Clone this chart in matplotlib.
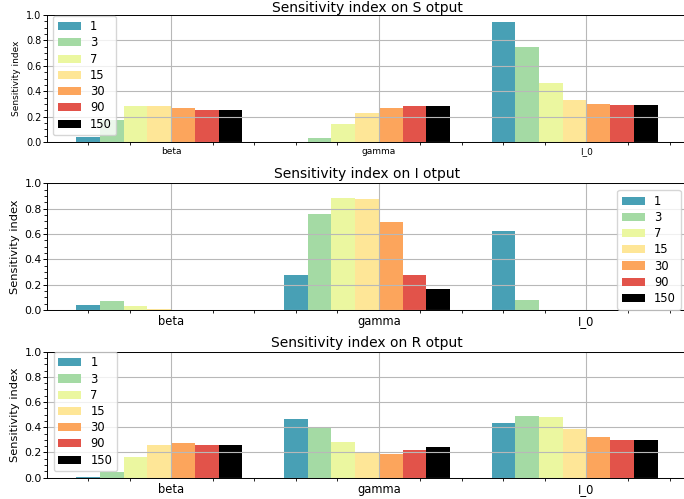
import numpy as np
import matplotlib
matplotlib.use('Agg')
import matplotlib.pyplot as plt

# parameters and time points (days)
params = ['beta', 'gamma', 'I_0']
times = ['1', '3', '7', '15', '30', '90', '150']
colors = ['#48a0b5', '#a4daa4', '#ebf7a0', '#fee697', '#fca55c', '#e2534a', '#000000']

# sensitivity index per output, rows = time points, columns = parameters
s_out = [[0.04, 0.0, 0.945],
         [0.173, 0.035, 0.748],
         [0.283, 0.142, 0.465],
         [0.283, 0.228, 0.331],
         [0.268, 0.268, 0.299],
         [0.252, 0.283, 0.291],
         [0.252, 0.283, 0.291]]
i_out = [[0.039, 0.276, 0.624],
         [0.071, 0.758, 0.079],
         [0.034, 0.884, 0.0],
         [0.005, 0.876, 0.0],
         [0.0, 0.695, 0.0],
         [0.0, 0.276, 0.0],
         [0.0, 0.166, 0.0]]
r_out = [[0.003, 0.466, 0.434],
         [0.048, 0.394, 0.49],
         [0.164, 0.283, 0.48],
         [0.26, 0.2, 0.386],
         [0.275, 0.188, 0.323],
         [0.26, 0.22, 0.299],
         [0.26, 0.243, 0.299]]

fig = plt.figure(figsize=(6.84, 4.99), dpi=100)

# name, data, axes rect, legend loc, legend anchor, small fonts
panels = [('S', s_out, [0.069, 0.7154, 0.935, 0.2545], 'upper left', (0.009, 0.995), True),
          ('I', i_out, [0.069, 0.3788, 0.935, 0.2539], 'lower right', (0.9906, 0.003), False),
          ('R', r_out, [0.069, 0.0427, 0.935, 0.2525], 'upper left', (0.010, 1.0), False)]

x = np.arange(len(params))
w = 0.8 / len(times)

for name, data, rect, loc, anchor, small in panels:
    ax = fig.add_axes(rect)
    for i, t in enumerate(times):
        ax.bar(x + (i - 3.5) * w, data[i], w, color=colors[i], label=t)
    ax.set_ylim(0, 1)
    ax.set_xticks(x, params)
    ax.minorticks_on()
    ax.grid(True, which='major', color='#b8b8b8', lw=0.8)
    for s in ax.spines.values():
        s.set_linewidth(0.7)
    ax.tick_params(axis='y', which='major', length=3, width=0.7, pad=1)
    ax.tick_params(axis='x', which='major', length=0, pad=3.5)
    ax.tick_params(which='minor', length=2, width=0.6)
    if small:
        ax.tick_params(axis='y', labelsize=7)
        ax.tick_params(axis='x', labelsize=6.5)
        ax.set_ylabel('Sensitivity index', fontsize=6.5, labelpad=4)
        ax.set_title('Sensitivity index on %s otput' % name, fontsize=10, pad=2.5)
    else:
        ax.tick_params(axis='y', labelsize=7.8)
        ax.tick_params(axis='x', labelsize=8.3)
        ax.set_ylabel('Sensitivity index', fontsize=8.2, labelpad=3)
        ax.set_title('Sensitivity index on %s otput' % name, fontsize=10, pad=3.5)
    ax.legend(loc=loc, bbox_to_anchor=anchor, borderaxespad=0, fontsize=8.3,
              labelspacing=0.28)

fig.savefig('out.png', dpi=100)
